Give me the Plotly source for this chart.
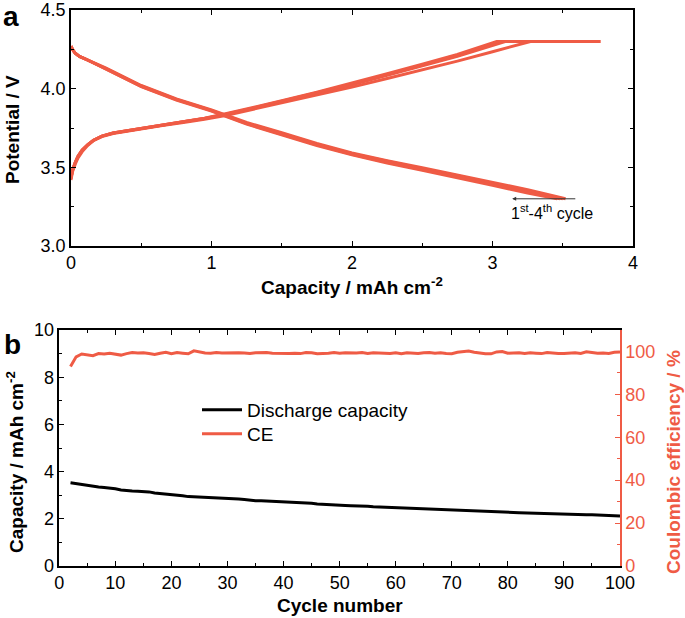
import plotly.graph_objects as go

RED = "#EF5B45"
FONT = "Liberation Sans, Arial, sans-serif"

# ---------- Panel a: charge/discharge profiles (cycles 1-4) ----------
charge1_x = [0, 0.01, 0.03, 0.05, 0.08, 0.12, 0.16, 0.22, 0.3, 0.4, 0.5, 0.65, 0.8, 0.95, 1.1, 1.3, 1.5, 1.75, 2.0, 2.25, 2.5, 2.75, 3.0, 3.27, 3.77]
charge1_v = [3.42, 3.47, 3.52, 3.56, 3.60, 3.64, 3.67, 3.695, 3.715, 3.73, 3.745, 3.765, 3.785, 3.805, 3.83, 3.87, 3.91, 3.96, 4.01, 4.065, 4.12, 4.175, 4.235, 4.30, 4.30]

charge2_x = [0, 0.01, 0.03, 0.05, 0.08, 0.12, 0.16, 0.22, 0.3, 0.4, 0.5, 0.65, 0.8, 0.95, 1.1, 1.3, 1.5, 1.75, 2.0, 2.25, 2.5, 2.75, 3.09, 3.58]
charge2_v = [3.43, 3.48, 3.53, 3.57, 3.61, 3.645, 3.672, 3.698, 3.718, 3.733, 3.748, 3.768, 3.79, 3.81, 3.835, 3.875, 3.917, 3.97, 4.025, 4.085, 4.145, 4.205, 4.30, 4.30]

charge3_x = [0, 0.01, 0.03, 0.05, 0.08, 0.12, 0.16, 0.22, 0.3, 0.4, 0.5, 0.65, 0.8, 0.95, 1.1, 1.3, 1.5, 1.75, 2.0, 2.25, 2.5, 2.75, 3.06, 3.55]
charge3_v = [3.43, 3.48, 3.53, 3.57, 3.61, 3.645, 3.672, 3.698, 3.718, 3.733, 3.748, 3.768, 3.79, 3.81, 3.837, 3.878, 3.92, 3.975, 4.03, 4.09, 4.15, 4.21, 4.30, 4.30]

charge4_x = [0, 0.01, 0.03, 0.05, 0.08, 0.12, 0.16, 0.22, 0.3, 0.4, 0.5, 0.65, 0.8, 0.95, 1.1, 1.3, 1.5, 1.75, 2.0, 2.25, 2.5, 2.75, 3.03, 3.52]
charge4_v = [3.43, 3.48, 3.53, 3.57, 3.61, 3.645, 3.672, 3.698, 3.718, 3.733, 3.748, 3.768, 3.79, 3.812, 3.84, 3.88, 3.923, 3.978, 4.035, 4.095, 4.155, 4.218, 4.30, 4.30]

dis1_x = [0, 0.01, 0.03, 0.06, 0.1, 0.25, 0.5, 0.75, 1.0, 1.25, 1.5, 1.75, 2.0, 2.25, 2.5, 2.75, 3.0, 3.25, 3.52]
dis1_v = [4.27, 4.25, 4.225, 4.205, 4.19, 4.13, 4.02, 3.935, 3.865, 3.785, 3.72, 3.652, 3.592, 3.542, 3.497, 3.452, 3.405, 3.358, 3.30]

dis2_x = [0, 0.01, 0.03, 0.06, 0.1, 0.25, 0.5, 0.75, 1.0, 1.25, 1.5, 1.75, 2.0, 2.25, 2.5, 2.75, 3.0, 3.25, 3.50]
dis2_v = [4.27, 4.25, 4.225, 4.205, 4.19, 4.128, 4.017, 3.932, 3.862, 3.781, 3.715, 3.647, 3.587, 3.537, 3.491, 3.446, 3.398, 3.35, 3.30]

dis3_x = [0, 0.01, 0.03, 0.06, 0.1, 0.25, 0.5, 0.75, 1.0, 1.25, 1.5, 1.75, 2.0, 2.25, 2.5, 2.75, 3.0, 3.25, 3.48]
dis3_v = [4.27, 4.25, 4.225, 4.205, 4.19, 4.126, 4.015, 3.93, 3.86, 3.778, 3.711, 3.643, 3.583, 3.532, 3.486, 3.44, 3.392, 3.343, 3.30]

dis4_x = [0, 0.01, 0.03, 0.06, 0.1, 0.25, 0.5, 0.75, 1.0, 1.25, 1.5, 1.75, 2.0, 2.25, 2.5, 2.75, 3.0, 3.25, 3.46]
dis4_v = [4.27, 4.25, 4.225, 4.205, 4.19, 4.124, 4.013, 3.928, 3.857, 3.775, 3.707, 3.639, 3.579, 3.527, 3.481, 3.435, 3.386, 3.337, 3.30]

profiles = [
    (charge1_x, charge1_v), (charge2_x, charge2_v), (charge3_x, charge3_v), (charge4_x, charge4_v),
    (dis1_x, dis1_v), (dis2_x, dis2_v), (dis3_x, dis3_v), (dis4_x, dis4_v),
]

# ---------- Panel b: cycling ----------
cycles = list(range(2, 101))
discharge_capacity = [
    3.53, 3.49, 3.45, 3.41, 3.38, 3.35, 3.33, 3.31, 3.27, 3.22,
    3.19, 3.18, 3.17, 3.16, 3.14, 3.09, 3.07, 3.05, 3.04, 3.02,
    2.98, 2.94, 2.93, 2.93, 2.92, 2.91, 2.89, 2.87, 2.86, 2.85,
    2.84, 2.82, 2.79, 2.77, 2.77, 2.76, 2.75, 2.73, 2.72, 2.71,
    2.71, 2.70, 2.69, 2.66, 2.63, 2.61, 2.61, 2.60, 2.58, 2.56,
    2.55, 2.55, 2.54, 2.53, 2.51, 2.50, 2.49, 2.48, 2.47, 2.46,
    2.45, 2.43, 2.42, 2.42, 2.42, 2.41, 2.39, 2.37, 2.35, 2.34,
    2.34, 2.35, 2.34, 2.32, 2.30, 2.29, 2.29, 2.29, 2.28, 2.27,
    2.26, 2.25, 2.24, 2.24, 2.23, 2.22, 2.22, 2.21, 2.20, 2.18,
    2.18, 2.18, 2.17, 2.17, 2.16, 2.15, 2.13, 2.12, 2.12,
]
coulombic_eff = [
    93.0, 97.5, 98.8, 98.3, 98.0, 99.0, 98.8, 99.2, 98.9, 98.3,
    99.0, 99.5, 99.3, 99.4, 99.0, 98.6, 99.2, 99.6, 99.0, 99.5,
    99.2, 98.9, 100.3, 99.8, 99.3, 99.2, 99.5, 99.3, 99.4, 99.2,
    99.4, 99.3, 99.0, 99.4, 99.6, 99.5, 99.2, 99.1, 99.3, 99.0,
    99.2, 99.0, 99.5, 99.4, 98.9, 98.9, 99.2, 99.5, 99.2, 99.4,
    99.2, 99.3, 99.5, 99.1, 99.4, 99.3, 99.2, 99.0, 99.4, 98.9,
    99.4, 99.3, 99.0, 99.4, 99.5, 99.2, 99.4, 99.0, 98.9, 99.6,
    100.0, 100.2, 99.6, 99.2, 98.9, 98.9, 99.8, 100.0, 99.2, 99.3,
    99.4, 99.0, 99.4, 99.2, 99.0, 99.5, 99.2, 99.0, 99.1, 99.2,
    99.4, 99.1, 99.8, 99.5, 99.2, 99.3, 99.1, 99.6, 99.8,
]

fig = go.Figure()
for px_, pv_ in profiles:
    fig.add_trace(go.Scatter(x=px_, y=pv_, mode="lines", xaxis="x", yaxis="y",
                             line=dict(color=RED, width=3), showlegend=False, hoverinfo="skip"))

fig.add_trace(go.Scatter(x=cycles, y=discharge_capacity, mode="lines", name="Discharge capacity",
                         xaxis="x2", yaxis="y2", line=dict(color="black", width=3), legend="legend"))
fig.add_trace(go.Scatter(x=cycles, y=coulombic_eff, mode="lines", name="CE",
                         xaxis="x2", yaxis="y3", line=dict(color=RED, width=3), legend="legend2"))

TICK = 18
tickfont = dict(family=FONT, size=TICK, color="black")
common = dict(showgrid=False, zeroline=False, showline=True, linecolor="black", linewidth=1.5,
              ticks="inside", ticklen=5, tickwidth=1.2, tickcolor="black", tickfont=tickfont,
              automargin=False)

W, H = 685, 618
legfont = dict(family=FONT, size=19, color="black")
fig.update_layout(
    width=W, height=H, margin=dict(l=0, r=0, t=0, b=0, autoexpand=False),
    paper_bgcolor="white", plot_bgcolor="white",
    font=dict(family=FONT, color="black"),
    xaxis=dict(domain=[71 / W, 633 / W], range=[0, 4], dtick=1, anchor="y", mirror="ticks",
               minor=dict(ticks="inside", ticklen=3, dtick=0.5, tickcolor="black"), **common),
    yaxis=dict(domain=[(H - 246) / H, (H - 10) / H], range=[3.0, 4.5], dtick=0.5, tickformat=".1f",
               anchor="x", mirror="ticks",
               minor=dict(ticks="inside", ticklen=3, dtick=0.25, tickcolor="black"), **common),
    xaxis2=dict(domain=[59.3 / W, 620 / W], range=[0, 100], dtick=10, anchor="y2", mirror="ticks",
                minor=dict(ticks="inside", ticklen=3, dtick=5, tickcolor="black"), **common),
    yaxis2=dict(domain=[(H - 566) / H, (H - 330) / H], range=[0, 10], dtick=2, anchor="x2",
                minor=dict(ticks="inside", ticklen=3, dtick=1, tickcolor="black"), **common),
    yaxis3=dict(overlaying="y2", side="right", anchor="x2", range=[0, 110], tickvals=[0, 20, 40, 60, 80, 100],
                showgrid=False, zeroline=False, showline=True, linecolor=RED, linewidth=1.5,
                ticks="inside", ticklen=5, tickwidth=1.2, tickcolor=RED, automargin=False,
                tickfont=dict(family=FONT, size=TICK, color=RED),
                minor=dict(ticks="inside", ticklen=3, tickvals=[10, 30, 50, 70, 90], tickcolor=RED)),
    legend=dict(x=197 / W, y=1 - 410 / H, xanchor="left", yanchor="middle", bgcolor="rgba(0,0,0,0)",
                font=legfont, itemwidth=40),
    legend2=dict(x=197 / W, y=1 - 434 / H, xanchor="left", yanchor="middle", bgcolor="rgba(0,0,0,0)",
                 font=legfont, itemwidth=40),
)

ann = []
def txt(x, y, text, size, bold=True, color="black", angle=0):
    ann.append(dict(x=x / W, y=1 - y / H, xref="paper", yref="paper", text=f"<b>{text}</b>" if bold else text,
                    showarrow=False, textangle=angle, xanchor="center", yanchor="middle",
                    font=dict(family=FONT, size=size, color=color)))

TITLE = 19
txt(11, 17, "a", 28)
txt(12, 344, "b", 28)
txt(352, 286, "Capacity / mAh cm<sup>-2</sup>", TITLE)
txt(12, 130, "Potential / V", TITLE, angle=-90)
txt(340, 605, "Cycle number", TITLE)
txt(15, 462, "Capacity / mAh cm<sup>-2</sup>", TITLE, angle=-90)
txt(673, 462, "Coulombic efficiency / %", TITLE, color=RED, angle=-90)

ann.append(dict(x=3.14, y=3.3, ax=3.6, ay=3.3, xref="x", yref="y", axref="x", ayref="y", text="",
                showarrow=True, arrowhead=2, arrowsize=0.8, arrowwidth=1, arrowcolor="#333"))
ann.append(dict(x=3.42, y=3.215, xref="x", yref="y", text="1<sup>st</sup>-4<sup>th</sup> cycle",
                showarrow=False, font=dict(family=FONT, size=16, color="black")))

fig.update_layout(annotations=ann)
fig.write_html("out.html", config={"displayModeBar": False},
               post_script="document.body.style.margin='0';document.body.style.overflow='hidden';")
